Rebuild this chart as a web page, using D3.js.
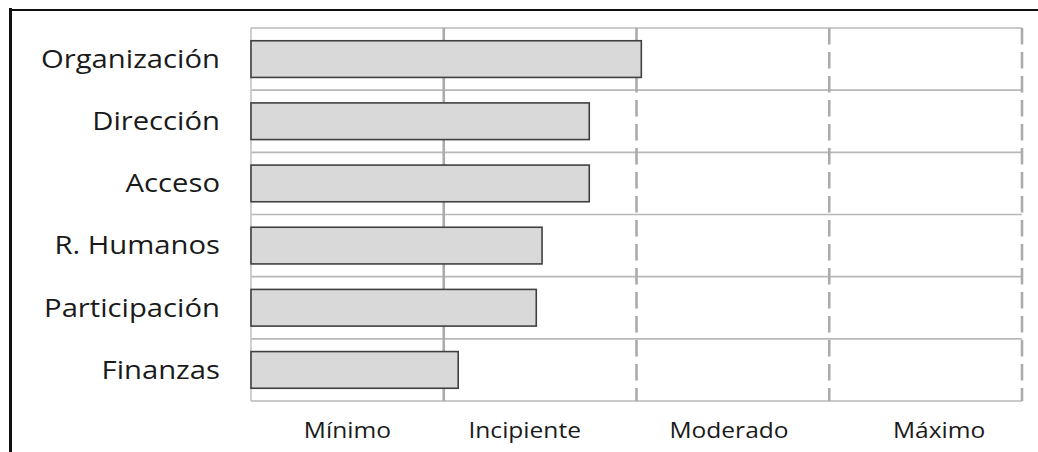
<!DOCTYPE html>
<html>
<head>
<meta charset="utf-8">
<script src="https://cdn.jsdelivr.net/npm/d3@7/dist/d3.min.js"></script>
<style>
  html, body { margin: 0; padding: 0; background: #fff; }
  svg { display: block; }
  text { font-family: "Open Sans", "Noto Sans", sans-serif; fill: #1a1a1a; }
</style>
</head>
<body>
<svg id="chart" width="1038" height="452"></svg>
<script>
// Dimensions of development, one bar each (scale 0–4, one unit per level)
const categories = ["Organización", "Dirección", "Acceso", "R. Humanos", "Participación", "Finanzas"];
const values = [2.025, 1.755, 1.755, 1.51, 1.48, 1.075];

// Level names shown under the axis and where each one sits on the scale
const levelLabels = ["Mínimo", "Incipiente", "Moderado", "Máximo"];
const levelLabelPos = [0.5, 1.42, 2.48, 3.57];

// Level boundaries drawn as vertical gridlines
const levelBounds = [1, 2, 3, 4];

const svg = d3.select("#chart");
const margin = { top: 28, right: 16, bottom: 51, left: 251 };
const W = 1038, H = 452;
const innerW = W - margin.left - margin.right;
const innerH = H - margin.top - margin.bottom;

const x = d3.scaleLinear().domain([0, 4]).range([margin.left, margin.left + innerW]);
const y = d3.scaleBand().domain(categories).range([margin.top, margin.top + innerH])
  .paddingInner(0.41).paddingOuter(0.205);

const gridColor = "#ababab";

// Frame: heavy rule on the left, thin rule on top
svg.append("line")
  .attr("x1", 10.5).attr("x2", 10.5).attr("y1", 8).attr("y2", H)
  .attr("stroke", "#111").attr("stroke-width", 3);
svg.append("line")
  .attr("x1", 9).attr("x2", W).attr("y1", 10).attr("y2", 10)
  .attr("stroke", "#111").attr("stroke-width", 2);

// Horizontal row separators
const step = y.step();
const rowEdges = d3.range(categories.length + 1).map(i => margin.top + i * step);
svg.append("g").selectAll("line").data(rowEdges).join("line")
  .attr("x1", x(0)).attr("x2", x(4))
  .attr("y1", d => d).attr("y2", d => d)
  .attr("stroke", "#b8b8b8").attr("stroke-width", 1.6);

// Left edge of the plot
svg.append("line")
  .attr("x1", x(0)).attr("x2", x(0))
  .attr("y1", margin.top).attr("y2", margin.top + innerH)
  .attr("stroke", "#c4c4c4").attr("stroke-width", 1.6);

// Level boundaries: first solid, the rest dashed
svg.append("g").selectAll("line").data(levelBounds).join("line")
  .attr("x1", d => x(d)).attr("x2", d => x(d))
  .attr("y1", margin.top).attr("y2", margin.top + innerH)
  .attr("stroke", gridColor).attr("stroke-width", 2.6)
  .attr("stroke-dasharray", (d, i) => i === 0 ? null : "16.5,7.5");

// Bars
svg.append("g").selectAll("rect").data(categories).join("rect")
  .attr("x", x(0))
  .attr("y", d => y(d))
  .attr("width", (d, i) => x(values[i]) - x(0))
  .attr("height", y.bandwidth())
  .attr("fill", "#d9d9d9")
  .attr("stroke", "#404040")
  .attr("stroke-width", 1.6);

// Category labels
const sx = 1.17;
svg.append("g").selectAll("text").data(categories).join("text")
  .attr("transform", d => `translate(220,${y(d) + y.bandwidth() / 2}) scale(${sx},1)`)
  .attr("text-anchor", "end")
  .attr("dy", "0.35em")
  .attr("font-size", 25)
  .text(d => d);

// Level labels under the plot
svg.append("g").selectAll("text").data(levelLabels).join("text")
  .attr("transform", (d, i) => `translate(${x(levelLabelPos[i])},438) scale(${sx},1)`)
  .attr("text-anchor", "middle")
  .attr("font-size", 21)
  .text(d => d);
</script>
</body>
</html>
